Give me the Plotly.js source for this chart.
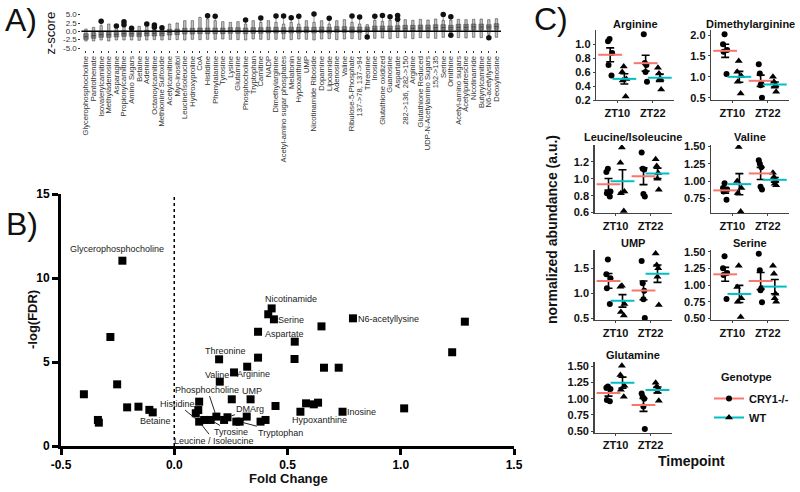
<!DOCTYPE html>
<html><head><meta charset="utf-8">
<script src="https://cdn.plot.ly/plotly-3.0.1.min.js"></script>
<style>html,body{margin:0;padding:0;background:#fff;}#chart{width:800px;height:492px;}</style>
</head><body><div id="chart"></div>
<script>
// ---------------- Panel A data ----------------
const metabolites = ["Glycerophosphocholine","Pantothenate","Isovalerylcarnitine","Methyladenosine","Asparagine","Propionylcarnitine","Amino Sugars","Betaine","Adenine","Octanoylcarnitine","Methionine Sulfoxide","Acetylcarnitine","Myo-inositol","Leucine/Isoleucine","Hydroxyproline","CoA","Histidine","Phenylalanine","Tyrosine","Lysine","Glutamine","Phosphocholine","Tryptophan","Carnitine","NADP","Dimethylarginine","Acetyl-amino sugar phosphates","Melatonin","Hypoxanthine","UMP","Nicotinamide Riboside","Dopamine","Lipoamide","Adenosine","Valine","Ribulose-5-Phosphate","137->78, 137->94","Threonine","Inosine","Glutathione oxidized","Guanosine","Aspartate","282->136, 282->150","Arginine","Glutathione Reduced","UDP-N-Acetylamino Sugars","152->135","Serine","Ornithine","Acetyl-amino sugars","Acetylputrescine","Nicotinamide","Butyrylcarnitine","N6-acetyllysine","Deoxyinosine"];
const zLow = [-2.9,-2.9,-2.6,-2.9,-2.6,-2.6,-2.6,-2.7,-2.6,-2.5,-2.6,-2.5,-2.5,-2.6,-2.4,-2.5,-2.4,-2.4,-2.3, -2.4,-2.5,-2.6,-2.3,-2.4,-2.5,-2.4,-2.3,-2.5,-2.3,-2.4,-2.6,-2.3,-2.2,-2.5,-2.3,-2.2,-2.4,-0.9, -2.1,-2.0,-2.2,-1.9,-2.0,-2.2,-1.9,-2.0,-2.1,-1.8,-0.9,-1.9,-2.0,-1.8,-1.9,-0.9,-1.8];
const zQ1 = [-2.4,-2.1,-1.8,-1.8,-1.7,-1.5,-1.5,-1.6,-1.4,-1.4,-1.4,-1.1,-1.0,-0.8,-0.8,-0.7,-0.7,-0.7,-0.7, -0.6,-0.6,-0.7,-0.6,-0.6,-0.5,-0.5,-0.6,-0.5,-0.5,-0.4,-0.5,-0.4,-0.5,-0.3,-0.3,-0.4,-0.4,-0.1, -0.1,-0.1,-0.1,0.0,0.1,0.1,0.2,0.2,0.3,0.3,0.4,0.4,0.4,0.5,0.5,0.6,0.6];
const zMedian = [-1.6,-1.3,-1.0,-1.0,-0.9,-0.7,-0.7,-0.8,-0.6,-0.6,-0.6,-0.3,-0.2,0.0,0.0,0.1,0.1,0.1,0.1, 0.2,0.2,0.1,0.2,0.2,0.3,0.3,0.2,0.3,0.3,0.4,0.3,0.4,0.3,0.5,0.5,0.4,0.4,0.6, 0.7,0.7,0.7,0.8,0.9,0.9,1.0,1.0,1.1,1.1,1.1,1.2,1.2,1.3,1.3,1.3,1.4];
const zQ3 = [-0.7,-0.4,-0.1,-0.1,0.0,0.2,0.2,0.1,0.3,0.3,0.2,0.6,0.7,0.9,0.9,1.0,1.0,1.0,1.0, 1.1,1.1,1.0,1.1,1.1,1.2,1.2,1.1,1.2,1.2,1.3,1.2,1.3,1.2,1.4,1.4,1.3,1.3,1.3, 1.6,1.6,1.6,1.7,1.8,1.8,1.9,1.9,2.0,2.0,1.8,2.1,2.1,2.2,2.2,2.0,2.3];
const zHigh = [0.7,1.2,1.7,2.2,1.7,1.7,1.5,1.5,1.5,1.5,1.2,2.2,2.5,3.2,3.2,4.2,3.7,3.2,2.9, 2.7,2.9,2.2,3.2,2.7,3.2,2.7,2.2,2.7,2.2,3.2,2.7,3.2,2.2,3.2,3.5,2.7,2.2,2.0, 3.3,3.0,3.3,3.0,3.5,3.3,3.6,3.4,3.7,3.3,3.4,3.6,3.5,3.6,3.7,3.5,3.8];
const zOutliers = [[],[],[3.0],[],[1.6],[2.85,2.0],[0.9],[],[2.2],[1.9,1.2],[1.05],[],[],[],[],[],[4.7],[4.5],[],
 [],[],[3.4],[],[4.0],[],[4.6],[4.6],[4.1],[4.5],[],[5.2],[],[3.9],[],[],[4.6],[4.3],[-1.7],
 [4.55],[4.75],[4.35],[4.75,3.6],[],[],[],[],[],[5.05],[4.4,-1.2],[],[],[],[],[-1.9],[]];

// ---------------- Panel B data ----------------
const foldChange = [-0.229,-0.282,-0.252,-0.399,-0.337,-0.333,-0.208,-0.158,-0.110,-0.095,
 0.198,0.201,0.264,0.322,0.370,0.370,0.110,0.106,0.095,0.110,0.132,0.161,0.186,0.220,0.235,0.274,0.289,0.320,0.254,0.337,
 0.447,0.381,0.403,0.430,0.415,0.440,0.789,1.283,0.650,0.532,1.227,0.531,0.661,0.726,0.582,0.616,0.635,0.557,0.743,1.015];
const negLogFDR = [11.03,6.49,3.67,3.08,1.55,1.39,2.30,2.34,2.15,2.00,
 5.16,3.83,4.38,4.72,6.80,5.26,2.64,2.14,1.95,1.45,1.55,1.55,1.75,1.55,1.71,1.45,1.45,1.75,2.78,2.78,
 2.38,1.45,1.55,8.19,7.84,7.54,7.60,7.40,7.12,6.21,5.58,5.18,4.66,4.66,2.54,2.48,2.58,2.04,2.04,2.24];
const labelNames = ["Glycerophosphocholine","Betaine","Threonine","Valine","Arginine","Aspartate","UMP","Nicotinamide","Serine","N6-acetyllysine","Hypoxanthine","Inosine","Histidine","Phosphocholine","DMArg","Tyrosine","Tryptophan","Leucine / Isoleucine"];
const labelPoint = [0,9,10,11,12,14,29,33,35,36,47,48,19,22,24,21,26,19];

// ---------------- Panel C data ----------------
const timepoints = ["ZT10","ZT22"];
const genotypes = ["CRY1-/-","WT"];
const arginineCRY1 = [[1.07,1.04,0.87,0.70,0.55],[1.14,0.73,0.70,0.60,0.46]];
const arginineWT   = [[0.68,0.60,0.50,0.48,0.25],[0.66,0.58,0.50,0.50,0.35]];
const dimethylarginineCRY1 = [[2.02,1.78,1.64,1.60,1.07],[1.30,1.08,0.84,0.80,0.50]];
const dimethylarginineWT   = [[1.38,1.12,1.02,0.88,0.60],[1.00,0.88,0.80,0.76,0.64]];
const leucineCRY1 = [[1.12,1.08,0.85,0.83,0.79],[1.31,1.12,1.11,0.82,0.79]];
const leucineWT   = [[1.37,1.19,0.85,0.83,0.62],[1.23,1.15,1.07,1.00,0.87]];
const valineCRY1 = [[0.97,0.90,0.88,0.85,0.73],[1.30,1.25,1.20,0.92,0.88]];
const valineWT   = [[1.49,1.00,0.90,0.83,0.56],[1.12,1.06,1.01,0.96,0.94]];
const umpCRY1 = [[1.68,1.38,1.30,1.10,0.78],[1.65,1.20,1.05,0.88,0.50]];
const umpWT   = [[1.15,1.13,0.78,0.62,0.55],[1.80,1.57,1.50,1.33,0.76]];
const serineCRY1 = [[1.43,1.25,1.18,1.15,0.79],[1.47,1.22,0.95,0.92,0.74]];
const serineWT   = [[1.29,0.97,0.80,0.75,0.52],[1.29,1.17,0.87,0.80,0.75]];
const glutamineCRY1 = [[1.19,1.17,1.15,0.98,0.96],[1.08,1.03,1.00,0.88,0.53]];
const glutamineWT   = [[1.51,1.37,1.20,1.14,1.03],[1.25,1.19,1.16,1.11,0.97]];

// ---------------- styles / layout helpers ----------------
const FONT = "Liberation Sans, Arial, Helvetica, sans-serif";
const W = 800, H = 492;
const px = v => v / W;
const py = v => 1 - v / H;
const COL = {"CRY1-/-": "#F8766D", "WT": "#00BFC4"};
const SYM = {"CRY1-/-": "circle", "WT": "triangle-up"};
const DODGE = {"CRY1-/-": -0.2, "WT": 0.2};

const labelStyle = {
  "Glycerophosphocholine": {dx:-5, dy:-12},
  "Betaine": {dx:3, dy:9},
  "Threonine": {dx:6, dy:-8},
  "Valine": {dx:-3, dy:-7},
  "Arginine": {dx:19, dy:2},
  "Aspartate": {dx:26, dy:2},
  "UMP": {dx:1, dy:-8},
  "Nicotinamide": {dx:19, dy:-9},
  "Serine": {dx:17, dy:1},
  "N6-acetyllysine": {dx:36, dy:1},
  "Hypoxanthine": {dx:19, dy:8},
  "Inosine": {dx:19, dy:0},
  "Histidine": {dx:-22, dy:-18, arrow:true},
  "Phosphocholine": {dx:-9, dy:-27, arrow:true},
  "DMArg": {dx:23, dy:-8, arrow:true},
  "Tyrosine": {dx:20, dy:12, arrow:true},
  "Tryptophan": {dx:41, dy:11, arrow:true},
  "Leucine / Isoleucine": {dx:15, dy:19, arrow:true}
};

const cPanels = [
  {title:"Arginine", cry:arginineCRY1, wt:arginineWT, dx:[596,674], dy:[30,100], range:[0.2,1.2], tv:[0.2,0.4,0.6,0.8,1.0], fmt:".1f", ty:24},
  {title:"Dimethylarginine", cry:dimethylarginineCRY1, wt:dimethylarginineWT, dx:[711,789], dy:[30,100], range:[0.445,2.12], tv:[0.5,1.0,1.5,2.0], fmt:".1f", ty:24},
  {title:"Leucine/Isoleucine", cry:leucineCRY1, wt:leucineWT, dx:[594.5,671.5], dy:[145,213], range:[0.595,1.40], tv:[0.6,0.8,1.0,1.2], fmt:".1f", ty:136.5},
  {title:"Valine", cry:valineCRY1, wt:valineWT, dx:[711,789], dy:[145,213], range:[0.54,1.52], tv:[0.75,1.0,1.25,1.5], fmt:".2f", ty:136.5},
  {title:"UMP", cry:umpCRY1, wt:umpWT, dx:[594.5,671.5], dy:[250,320], range:[0.46,1.87], tv:[0.5,1.0,1.5], fmt:".1f", ty:242.5},
  {title:"Serine", cry:serineCRY1, wt:serineWT, dx:[711,789], dy:[250,320], range:[0.475,1.525], tv:[0.5,0.75,1.0,1.25,1.5], fmt:".2f", ty:242.5},
  {title:"Glutamine", cry:glutamineCRY1, wt:glutamineWT, dx:[594.5,671.5], dy:[362,432.7], range:[0.474,1.57], tv:[0.5,0.75,1.0,1.25,1.5], fmt:".2f", ty:355}
];

const mean = a => a.reduce((s,v)=>s+v,0)/a.length;
const sem = a => { const m = mean(a); const v = a.reduce((s,x)=>s+(x-m)*(x-m),0)/(a.length-1); return Math.sqrt(v/a.length); };

const traces = [];
const annotations = [];
const shapes = [];
const layout = {
  width: W, height: H, margin: {l:0, r:0, t:0, b:0},
  paper_bgcolor: "#fff", plot_bgcolor: "rgba(0,0,0,0)",
  font: {family: FONT, color: "#000"},
  showlegend: true, boxmode: "overlay", hovermode: false
};

// ---------------- Panel A ----------------
const upF = zHigh.map((h,i)=>Math.max(h, ...zOutliers[i]));
const loF = zLow.map((l,i)=>Math.min(l, ...zOutliers[i]));
traces.push({type:"box", x:metabolites, q1:zLow, median:zMedian, q3:zHigh, lowerfence:loF, upperfence:upF,
  width:0.32, whiskerwidth:0, boxpoints:false, fillcolor:"rgba(120,120,120,0.45)",
  line:{color:"rgba(60,60,60,0.55)", width:1}, xaxis:"x", yaxis:"y", showlegend:false, hoverinfo:"skip"});
traces.push({type:"box", x:metabolites, q1:zQ1, median:zMedian, q3:zQ3, lowerfence:zQ1, upperfence:zQ3,
  width:0.62, whiskerwidth:0, boxpoints:false, fillcolor:"rgba(70,70,70,0.5)",
  line:{color:"rgba(40,40,40,0.5)", width:0.8}, xaxis:"x", yaxis:"y", showlegend:false, hoverinfo:"skip"});
const oX = [], oY = [];
zOutliers.forEach((arr,i)=>arr.forEach(v=>{oX.push(metabolites[i]); oY.push(v);}));
traces.push({type:"scatter", mode:"markers", x:oX, y:oY, marker:{color:"#111", size:5.5},
  xaxis:"x", yaxis:"y", showlegend:false, hoverinfo:"skip", cliponaxis:false});

layout.xaxis = {domain:[px(81.4), px(501)], type:"category", range:[-0.6, 54.6], anchor:"y",
  tickmode:"array", tickvals:metabolites, ticktext:metabolites,
  tickangle:-90, tickfont:{size:7.6, color:"#333", family:FONT}, ticks:"outside", ticklen:2, tickcolor:"#333",
  showline:false, showgrid:false, zeroline:false, fixedrange:true};
layout.yaxis = {domain:[py(50), py(10)], range:[-5.6, 6.4], anchor:"x",
  tickvals:[-5,-2.5,0,2.5,5], ticktext:["-5.0","-2.5","0.0","2.5","5.0"], tickfont:{size:8, color:"#333", family:FONT},
  ticks:"outside", ticklen:2, tickcolor:"#333", showline:false, showgrid:false, zeroline:false, fixedrange:true};
shapes.push({type:"line", xref:"paper", yref:"y", x0:px(81.4), x1:px(501), y0:0, y1:0, line:{color:"#000", width:1.5}, layer:"above"});

// ---------------- Panel B ----------------
traces.push({type:"scatter", mode:"markers", x:foldChange, y:negLogFDR, xaxis:"x2", yaxis:"y2",
  marker:{symbol:"square", size:8, color:"#000"}, showlegend:false, hoverinfo:"skip"});
layout.xaxis2 = {domain:[px(61), px(514)], range:[-0.5,1.5], anchor:"y2",
  tickvals:[-0.5,0,0.5,1,1.5], ticktext:["-0.5","0.0","0.5","1.0","1.5"],
  tickfont:{size:12, weight:"bold", family:FONT}, ticks:"outside", ticklen:6, tickwidth:3, tickcolor:"#000",
  showline:true, linewidth:3, linecolor:"#000", showgrid:false, zeroline:false, fixedrange:true};
layout.yaxis2 = {domain:[py(446), py(194)], range:[0,15], anchor:"x2",
  tickvals:[0,5,10,15], tickfont:{size:12, weight:"bold", family:FONT}, ticks:"outside", ticklen:6, tickwidth:3, tickcolor:"#000",
  showline:true, linewidth:3, linecolor:"#000", showgrid:false, zeroline:false, fixedrange:true};
shapes.push({type:"line", xref:"x2", yref:"y2", x0:0, x1:0, y0:0, y1:15, line:{color:"#000", width:1.5, dash:"dot"}});
labelNames.forEach((name,k)=>{
  const i = labelPoint[k], st = labelStyle[name];
  const a = {xref:"x2", yref:"y2", x:foldChange[i], y:negLogFDR[i], text:name,
    font:{size:9, color:"#222", family:FONT}};
  if (st.arrow) { Object.assign(a, {showarrow:true, arrowhead:0, arrowwidth:1, arrowcolor:"#222", ax:st.dx, ay:st.dy, standoff:4}); }
  else { Object.assign(a, {showarrow:false, xshift:st.dx, yshift:-st.dy}); }
  annotations.push(a);
});

// ---------------- Panel C ----------------
cPanels.forEach((p,k)=>{
  const n = k + 3;
  const xa = "x"+n, ya = "y"+n;
  [["CRY1-/-", p.cry], ["WT", p.wt]].forEach(([g, vals])=>{
    const xs = [], ys = [];
    vals.forEach((arr,t)=>arr.forEach(v=>{xs.push(t+1+DODGE[g]); ys.push(v);}));
    traces.push({type:"box", x:xs, y:ys, xaxis:xa, yaxis:ya, boxpoints:"all", jitter:0.9, pointpos:0, width:0.16,
      fillcolor:"rgba(0,0,0,0)", line:{width:0, color:"rgba(0,0,0,0)"}, whiskerwidth:0,
      marker:{color:"#000", size: g==="WT"?7:6, symbol:SYM[g]}, showlegend:false, hoverinfo:"skip"});
    traces.push({type:"scatter", mode:"markers", xaxis:xa, yaxis:ya,
      x: vals.map((a,t)=>t+1+DODGE[g]), y: vals.map(mean),
      error_y:{type:"data", array: vals.map(sem), color:"#000", thickness:1.6, width:4},
      marker:{symbol:"line-ew", size:17, color:COL[g], line:{color:COL[g], width:2}},
      showlegend:false, hoverinfo:"skip"});
  });
  layout["xaxis"+n] = {domain:[px(p.dx[0]), px(p.dx[1])], range:[0.4,2.6], anchor:ya,
    tickvals:[1,2], ticktext:timepoints, tickfont:{size:11, weight:"bold", family:FONT, color:"#111"},
    ticks:"outside", ticklen:2, tickcolor:"#444", showline:true, linecolor:"#444", linewidth:1.3,
    showgrid:false, zeroline:false, fixedrange:true};
  layout["yaxis"+n] = {domain:[py(p.dy[1]), py(p.dy[0])], range:p.range, anchor:xa,
    tickvals:p.tv, tickformat:p.fmt, tickfont:{size:11, weight:"bold", family:FONT, color:"#111"},
    ticks:"outside", ticklen:2, tickcolor:"#444", showline:true, linecolor:"#444", linewidth:1.3,
    showgrid:false, zeroline:false, fixedrange:true};
  annotations.push({xref:"paper", yref:"paper", x:px((p.dx[0]+p.dx[1])/2), y:py(p.ty), text:p.title, showarrow:false,
    xanchor:"center", yanchor:"middle", font:{size:11, weight:"bold", family:FONT, color:"#111"}});
});
// legend entries
genotypes.forEach(g=>{
  traces.push({type:"scatter", mode:"lines+markers", x:[null], y:[null], xaxis:"x9", yaxis:"y9", name:g,
    line:{color:COL[g], width:2}, marker:{color:"#000", size:g==="WT"?7:6, symbol:SYM[g]}, showlegend:true});
});
layout.legend = {x:px(709), y:py(384), xanchor:"left", yanchor:"top", bgcolor:"rgba(0,0,0,0)",
  font:{size:11, weight:"bold", family:FONT, color:"#111"}, itemwidth:30, tracegroupgap:0};

// ---------------- texts ----------------
const txt = (t, x, y, size, opts={}) => annotations.push(Object.assign({xref:"paper", yref:"paper", x:px(x), y:py(y), text:t,
  showarrow:false, xanchor:"center", yanchor:"middle", font:{size:size, family:FONT, color:"#111", weight:opts.bold?"bold":"normal"}}, opts.rot?{textangle:-90}:{}));
txt("A)", 21, 20, 32);
txt("B)", 22, 223.5, 32);
txt("C)", 550.5, 19, 32);
txt("z-score", 50, 33.5, 13, {rot:true});
txt("-log(FDR)", 32, 320, 13, {rot:true, bold:true});
txt("Fold Change", 288, 478, 13, {bold:true});
txt("Timepoint", 691, 461, 14, {bold:true});
txt("normalized abundance (a.u.)", 552, 230, 14, {rot:true, bold:true});
txt("Genotype", 746, 377, 11, {bold:true});

layout.annotations = annotations;
layout.shapes = shapes;
Plotly.newPlot("chart", traces, layout, {displayModeBar:false, staticPlot:true});
</script></body></html>
